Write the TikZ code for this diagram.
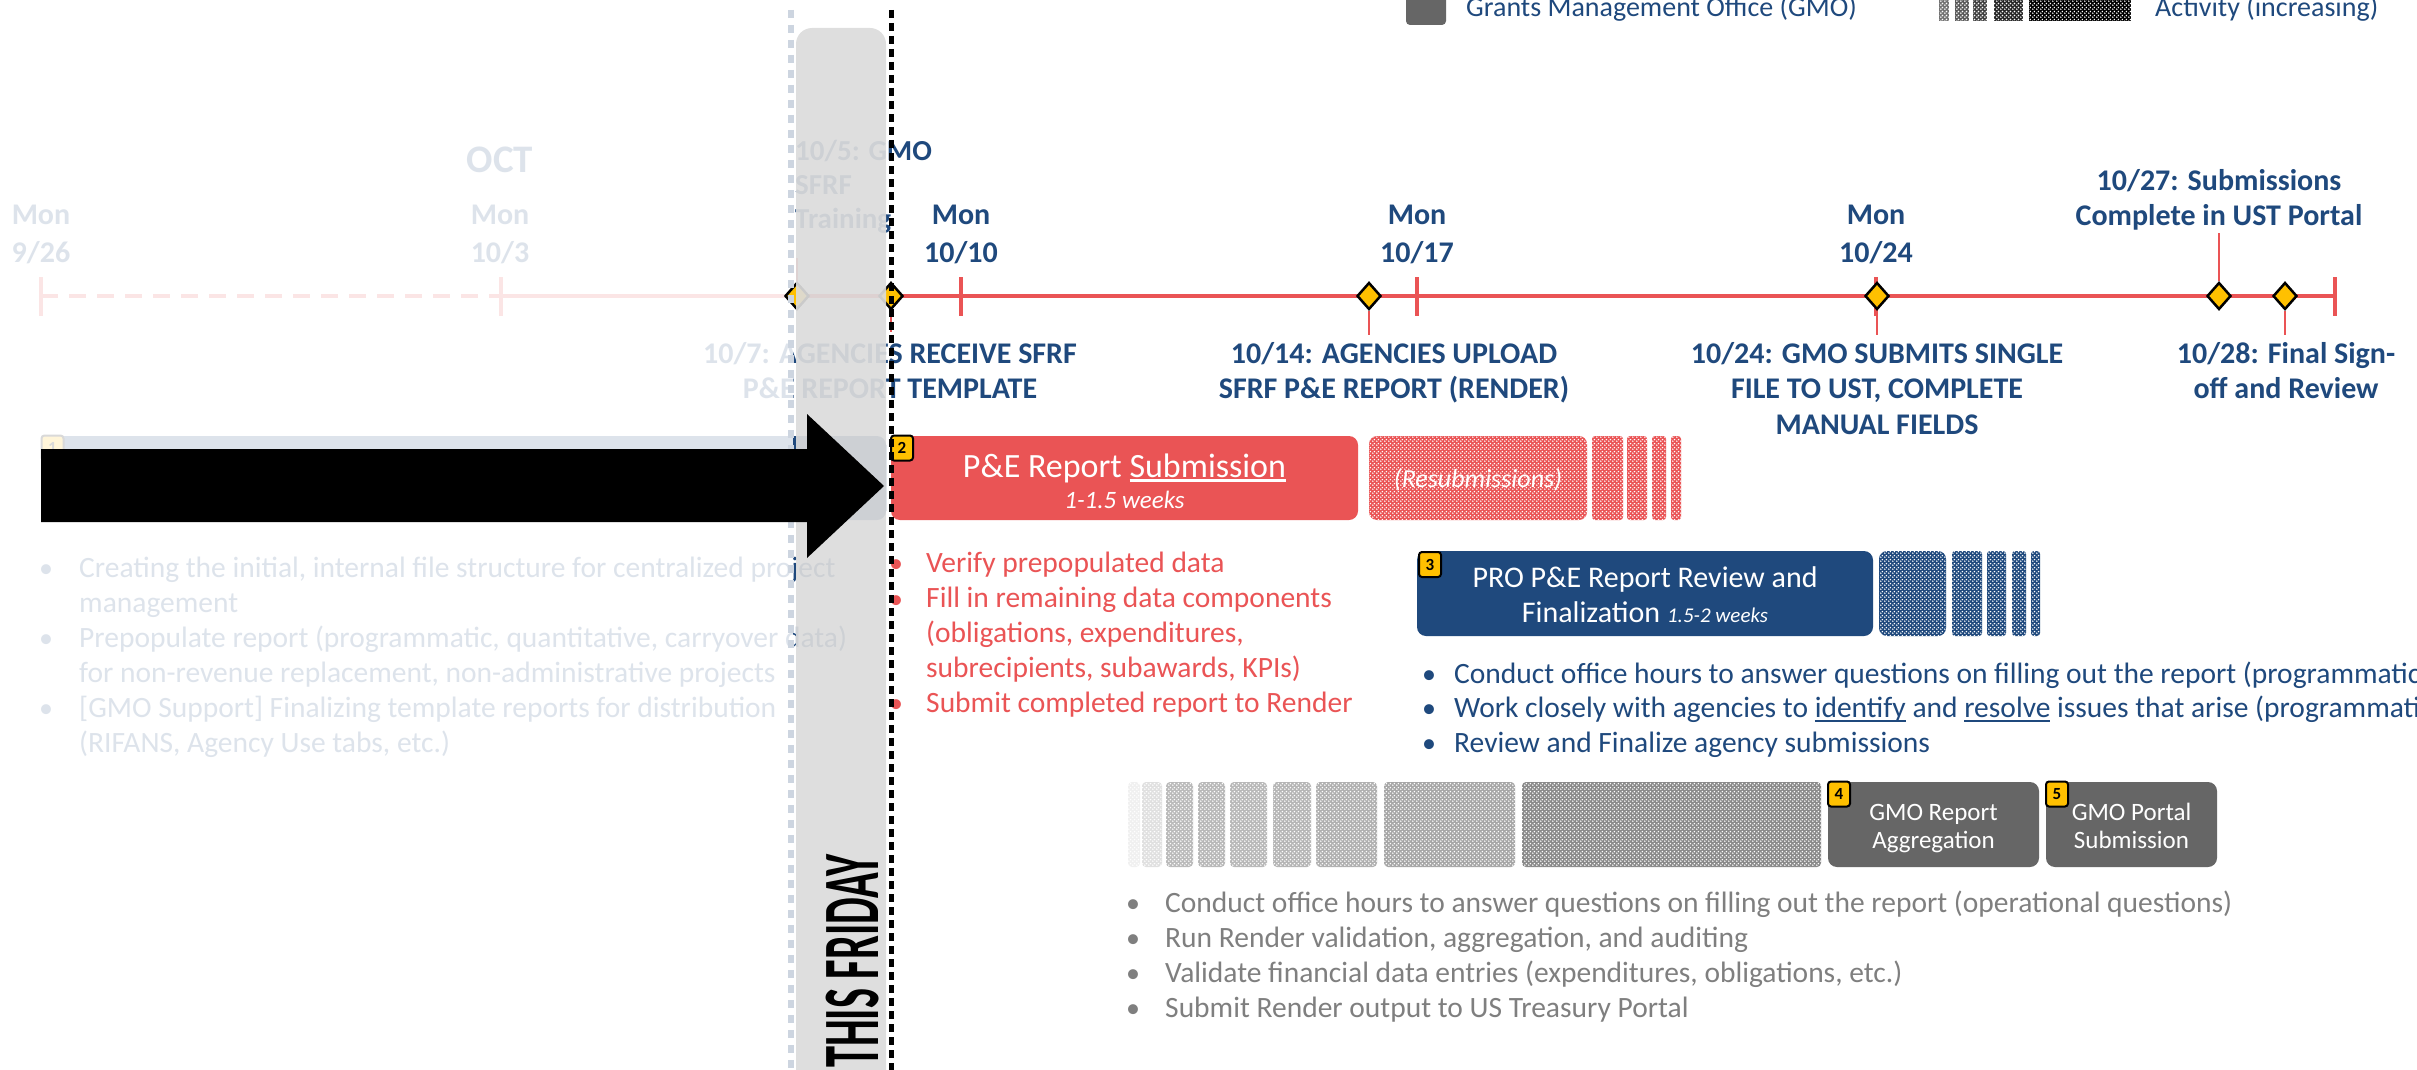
\documentclass[tikz,border=0pt]{standalone}
\usepackage{fontspec}
\usepackage{graphicx}
\setmainfont{Carlito}
\usetikzlibrary{shapes.geometric,patterns}

\definecolor{dblue}{RGB}{31,73,125}
\definecolor{tred}{RGB}{234,84,85}
\definecolor{gyel}{RGB}{255,192,0}
\definecolor{gbox}{RGB}{102,102,102}
\definecolor{gtext}{RGB}{127,127,127}
\definecolor{barg}{RGB}{220,220,220}
\definecolor{fdot}{RGB}{205,213,224}

\pgfdeclarepatternformonly{wdots}{\pgfqpoint{0pt}{0pt}}{\pgfqpoint{4pt}{4pt}}{\pgfqpoint{4pt}{4pt}}{%
  \pgfpathcircle{\pgfqpoint{1pt}{1pt}}{1pt}%
  \pgfpathcircle{\pgfqpoint{3pt}{3pt}}{1pt}%
  \pgfusepath{fill}}

\newcommand\fs[2]{\fontsize{#1pt}{#2pt}\selectfont}
\newsavebox\ulbox
\newcommand\ulin[1]{\sbox\ulbox{#1}\rlap{\rule[-4.5pt]{\wd\ulbox}{2.2pt}}\usebox\ulbox}

\tikzset{
  lbl/.style={font=\bfseries\fs{30}{35.5}, text=dblue, align=center, inner sep=0pt, anchor=base},
  monlbl/.style={lbl, font=\bfseries\fs{30}{38}},
  tline/.style={draw=tred, line width=4.5pt},
  tickmk/.style={draw=tred, line width=4pt},
  conn/.style={draw=tred, line width=1.3pt},
  dia/.style={diamond, draw=black, line width=2.5pt, fill=gyel, minimum width=24pt, minimum height=27pt, inner sep=0pt},
  badge/.style={draw=black, line width=2pt, fill=gyel, rounded corners=3pt, minimum width=22pt, minimum height=25pt, inner sep=0pt, font=\bfseries\fs{17}{17}},
  stepbox/.style={rounded corners=9pt, inner sep=0pt},
  btxt/.style={text=white, align=center, inner sep=0pt, anchor=base},
  listtxt/.style={align=left, inner sep=0pt, anchor=base west, font=\fs{29.5}{35}},
  bul/.style={inner sep=0pt, anchor=base, font=\fs{28}{35}},
  redpat/.style={preaction={fill=tred}, pattern=wdots, pattern color=white, rounded corners=#1},
  bluepat/.style={preaction={fill=dblue}, pattern=wdots, pattern color=white, rounded corners=#1},
  greypat/.style={preaction={fill=#1}, pattern=wdots, pattern color=white, rounded corners=4pt}
}

\begin{document}
\begin{tikzpicture}[x=1pt,y=-1pt]
\useasboundingbox (0,0) rectangle (2417,1070);
\clip (0,0) rectangle (2417,1070);
\fill[white] (0,0) rectangle (2417,1070);

% ---------- legend ----------
\node[fill=gbox, rounded corners=4pt, minimum width=40pt, minimum height=36pt, inner sep=0pt] (lgsq) at (1426,7) {};
\node[anchor=base west, inner sep=0pt, font=\fs{28}{28}, text=dblue] (lgt1) at (1466,17) {Grants Management Office (GMO)};
\foreach \a/\b/\c in {1939/1949/55,1955/1969/65,1973/1987/75,1994/2023/85,2029/2131/100}
  \path[preaction={fill=black!\c}, pattern=wdots, pattern color=white] (\a,-2) rectangle (\b,21);
\node[anchor=base west, inner sep=0pt, font=\fs{28}{28}, text=dblue] (lgt2) at (2155,17) {Activity (increasing)};

% ---------- timeline ----------
\coordinate (tA) at (41,296);
\coordinate (tB) at (501,296);
\coordinate (tZ) at (2335,296);
\draw[tline, dash pattern=on 17pt off 11pt] (tA) -- (tB);
\draw[tline] (tB) -- (tZ);
\foreach \x in {41,501,961,1417,1876,2335}
  \draw[tickmk] (\x,277) -- (\x,316);

% (multi-line nodes: base anchor = baseline of the last line)
\node[lbl, font=\bfseries\fs{39}{39}] (oct) at (500,172) {OCT};
\node[monlbl] (m926) at (41,262) {Mon\\9/26};
\node[monlbl] (m103) at (500,262) {Mon\\10/3};
\node[monlbl] (m1010) at (961,262) {Mon\\10/10};
\node[monlbl] (m1017) at (1417,262) {Mon\\10/17};
\node[monlbl] (m1024) at (1876,262) {Mon\\10/24};

\node[lbl, anchor=base west, align=left, font=\bfseries\fs{29}{34}] (l105) at (795,228) {10/5: GMO\\SFRF\\Training};
\node[lbl] (l107) at (890,398.5) {10/7: AGENCIES RECEIVE SFRF\\P\&E REPORT TEMPLATE};
\node[lbl] (l1014) at (1394,398.5) {10/14: AGENCIES UPLOAD\\SFRF P\&E REPORT (RENDER)};
\node[lbl] (l1024) at (1877,434) {10/24: GMO SUBMITS SINGLE\\FILE TO UST, COMPLETE\\MANUAL FIELDS};
\node[lbl] (l1027) at (2219,225.5) {10/27: Submissions\\Complete in UST Portal};
\node[lbl] (l1028) at (2286,398.5) {10/28: Final Sign-\\off and Review};

% ---------- step 1 (past) ----------
\node[stepbox, fill=dblue, minimum width=845pt, minimum height=84pt] (s1) at (463.5,478) {};
\node[badge] (b1) at (52.5,448) {1};
\node[listtxt, text=dblue] (list1) at (79,752) {Creating the initial, internal file structure for centralized project\\management\\Prepopulate report (programmatic, quantitative, carryover data)\\for non-revenue replacement, non-administrative projects\\{[GMO Support]} Finalizing template reports for distribution\\(RIFANS, Agency Use tabs, etc.)};
\node[bul, text=dblue] (bl1a) at (46,577) {•};
\node[bul, text=dblue] (bl1b) at (46,647) {•};
\node[bul, text=dblue] (bl1c) at (46,717) {•};

% ---------- step 2 ----------
\node[stepbox, fill=tred, minimum width=467pt, minimum height=84pt] (s2) at (1124.5,478) {};
\node[btxt, font=\fs{34}{34}] (s2t) at (1124.5,477) {P\&E Report \ulin{Submission}};
\node[btxt, font=\itshape\fs{25}{25}] (s2w) at (1124.5,508) {1-1.5 weeks};
\node[badge] (b2) at (902,448) {2};
\path[redpat=8pt] (1369,436) rectangle (1587,520);
\foreach \a/\b in {1592/1623,1627/1647,1652/1666,1671/1681}
  \path[redpat=3pt] (\a,436) rectangle (\b,520);
\node[btxt, font=\itshape\fs{26}{26}] (resub) at (1478,487) {(Resubmissions)};
\node[listtxt, text=tred] (list2) at (926,712) {Verify prepopulated data\\Fill in remaining data components\\(obligations, expenditures,\\subrecipients, subawards, KPIs)\\Submit completed report to Render};
\node[bul, text=tred] (bl2a) at (896,572) {•};
\node[bul, text=tred] (bl2b) at (896,608) {•};
\node[bul, text=tred] (bl2c) at (896,712) {•};

% ---------- step 3 ----------
\node[stepbox, fill=dblue, minimum width=456pt, minimum height=85pt] (s3) at (1645,593.5) {};
\node[btxt, font=\fs{30}{30}] (s3t) at (1645,587) {PRO P\&E Report Review and};
\node[btxt, font=\fs{30}{30}] (s3w) at (1645,622) {Finalization {\itshape\fs{21}{21}1.5-2 weeks}};
\node[badge] (b3) at (1430,564.5) {3};
\path[bluepat=8pt] (1879,551) rectangle (1946,636);
\foreach \a/\b in {1952/1982,1987/2006,2012/2026,2031/2040}
  \path[bluepat=3pt] (\a,551) rectangle (\b,636);
\node[listtxt, text=dblue, font=\fs{29.5}{34.5}] (list3) at (1454,752) {Conduct office hours to answer questions on filling out the report (programmatic\\Work closely with agencies to \ulin{identify} and \ulin{resolve} issues that arise (programmatic\\Review and Finalize agency submissions};
\node[bul, text=dblue] (bl3a) at (1429,683) {•};
\node[bul, text=dblue] (bl3b) at (1429,717.5) {•};
\node[bul, text=dblue] (bl3c) at (1429,752) {•};

% ---------- steps 4 and 5 ----------
\foreach \a/\b/\c in {1128/1140/6,1142/1162/12,1166/1193/27,1198/1225/28,1230/1267/28,1273/1311/29,1316/1377/31,1384/1515/35,1522/1821/46}
  \path[greypat=black!\c] (\a,782) rectangle (\b,867);
\node[stepbox, fill=gbox, minimum width=211pt, minimum height=85pt] (s4) at (1933.5,824.5) {};
\node[btxt, font=\fs{25}{28}] (s4t) at (1933.5,848) {GMO Report\\Aggregation};
\node[badge] (b4) at (1839,794) {4};
\node[stepbox, fill=gbox, minimum width=171pt, minimum height=85pt] (s5) at (2131.5,824.5) {};
\node[btxt, font=\fs{25}{28}] (s5t) at (2131.5,848) {GMO Portal\\Submission};
\node[badge] (b5) at (2057,794) {5};
\node[listtxt, text=gtext] (list4) at (1165,1017) {Conduct office hours to answer questions on filling out the report (operational questions)\\Run Render validation, aggregation, and auditing\\Validate financial data entries (expenditures, obligations, etc.)\\Submit Render output to US Treasury Portal};
\foreach \y in {912,947,982,1017}
  \node[bul, text=gtext] at (1133,\y) {•};

% ---------- fade the past ----------
\fill[white, opacity=.85] (0,0) rectangle (793,1070);

% ---------- milestones ----------
\node[dia] (d105) at (797,296) {};
\node[dia] (d107) at (891,296) {};
\node[dia] (d1014) at (1369,296) {};
\node[dia] (d1024) at (1877,296) {};
\node[dia] (d1027) at (2219,296) {};
\node[dia] (d1028) at (2285,296) {};
\coordinate (c105) at (797,258);
\coordinate (c107) at (891,332);
\coordinate (c1014) at (1369,335);
\coordinate (c1024) at (1877,335);
\coordinate (c1027) at (2219,233);
\coordinate (c1028) at (2285,335);
\draw[conn] (d105.north) -- (c105);
\draw[conn] (d107.south) -- (c107);
\draw[conn] (d1014.south) -- (c1014);
\draw[conn] (d1024.south) -- (c1024);
\draw[conn] (d1027.north) -- (c1027);
\draw[conn] (d1028.south) -- (c1028);

% ---------- this friday ----------
\fill[barg, opacity=.92, rounded corners=16pt] (796,1090) -- (796,28) -- (886,28) -- (886,1090) -- cycle;
\draw[fdot, line width=5.5pt, dash pattern=on 8pt off 7pt] (791,10) -- (791,1075);
\draw[black, line width=5pt, dash pattern=on 8pt off 5pt] (891,10) -- (891,1075);
\fill[black] (41,449) -- (807,449) -- (807,414) -- (884,486) -- (807,558) -- (807,522) -- (41,522) -- cycle;
\node[rotate=90, anchor=base west, inner sep=0pt, text=black] (fri) at (878,1068) {\scalebox{0.53}[1]{\bfseries\fs{80}{80}THIS FRIDAY}};
\end{tikzpicture}
\end{document}
